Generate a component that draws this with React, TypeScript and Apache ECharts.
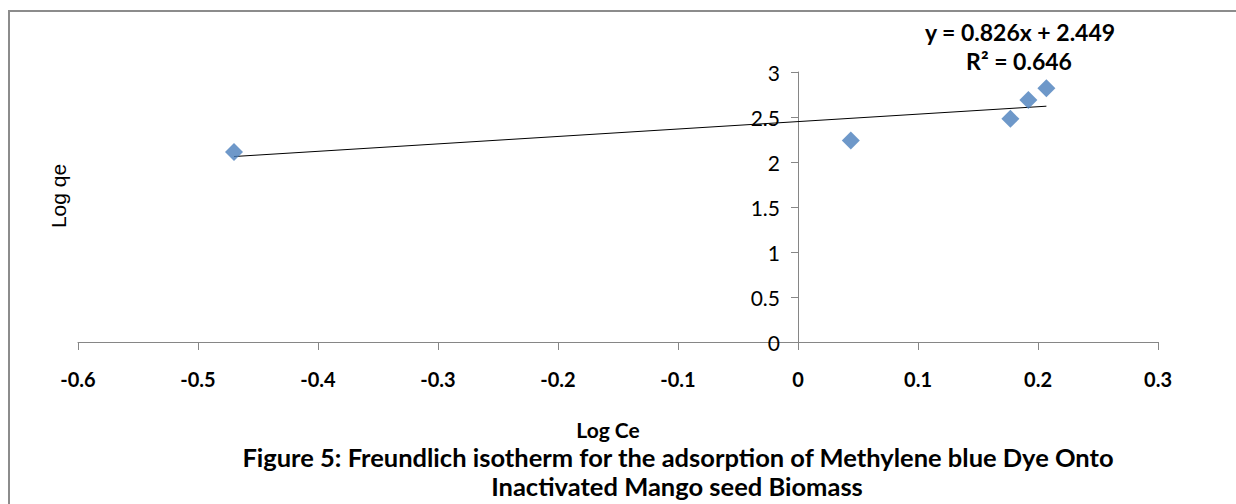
import React, { useEffect, useRef } from "react";
import * as echarts from "echarts";

const logCe = [-0.47, 0.044, 0.177, 0.192, 0.207];
const logQe = [2.11, 2.24, 2.48, 2.69, 2.82];
const slope = 0.826;
const intercept = 2.449;
const trendX = [-0.47, 0.207];
const equationText = "y = 0.826x + 2.449";
const r2Text = "R² = 0.646";
const xTitle = "Log Ce";
const yTitle = "Log qe";
const titleLines = [
  "Figure 5: Freundlich isotherm for the adsorption of Methylene blue Dye Onto",
  "Inactivated Mango seed Biomass",
];

const FONT = "Lato, 'Liberation Sans', sans-serif";

export default function App() {
  const ref = useRef<HTMLDivElement>(null);
  useEffect(() => {
    if (!ref.current) return;
    const chart = echarts.init(ref.current, null, { renderer: "svg" });
    const points = logCe.map((x, i) => [x, logQe[i]]);
    const trend = trendX.map((x) => [x, slope * x + intercept]);
    chart.setOption({
      animation: false,
      backgroundColor: "#ffffff",
      grid: { left: 78, right: 78, top: 72, bottom: 162 },
      xAxis: {
        type: "value",
        min: -0.6,
        max: 0.3,
        interval: 0.1,
        splitLine: { show: false },
        axisLine: { show: true, onZero: true, lineStyle: { color: "#868686", width: 1 } },
        axisTick: { show: true, length: 8, lineStyle: { color: "#868686" } },
        axisLabel: {
          margin: 27,
          fontSize: 20,
          fontWeight: "bold",
          color: "#000",
          fontFamily: FONT,
          formatter: (v: number) => String(Math.round(v * 10) / 10),
        },
      },
      yAxis: {
        type: "value",
        position: "left",
        offset: -720,
        min: 0,
        max: 3,
        interval: 0.5,
        splitLine: { show: false },
        axisLine: { show: true, onZero: false, lineStyle: { color: "#868686", width: 1 } },
        axisTick: { show: true, length: 7, lineStyle: { color: "#868686" } },
        axisLabel: {
          margin: 18,
          fontSize: 21,
          color: "#000",
          fontFamily: FONT,
          formatter: (v: number) => String(Math.round(v * 10) / 10),
        },
      },
      series: [
        {
          type: "line",
          data: trend,
          symbol: "none",
          lineStyle: { color: "#000", width: 1 },
          z: 3,
        },
        {
          type: "scatter",
          data: points,
          symbol: "diamond",
          symbolSize: 18,
          itemStyle: { color: "#4A7EBB" },
          z: 4,
        },
      ],
      graphic: [
        {
          type: "polyline",
          shape: { points: [[9, 504], [9, 11], [1236, 11]] },
          style: { stroke: "#8c8c8c", lineWidth: 2, fill: "none" },
        },
        {
          type: "text",
          x: 1020,
          y: 32,
          style: { text: equationText, font: `bold 23px ${FONT}`, fill: "#000", align: "center", verticalAlign: "middle" },
        },
        {
          type: "text",
          x: 1019,
          y: 61,
          style: { text: r2Text, font: `bold 23px ${FONT}`, fill: "#000", align: "center", verticalAlign: "middle" },
        },
        {
          type: "text",
          x: 608,
          y: 429,
          style: { text: xTitle, font: `bold 21px ${FONT}`, fill: "#000", align: "center", verticalAlign: "middle" },
        },
        {
          type: "text",
          x: 58,
          y: 196,
          rotation: Math.PI / 2,
          style: { text: yTitle, font: `21px 'Liberation Sans', Arial, sans-serif`, fill: "#000", align: "center", verticalAlign: "middle" },
        },
        {
          type: "text",
          x: 678,
          y: 457,
          style: { text: titleLines[0], font: `bold 25.5px ${FONT}`, fill: "#000", align: "center", verticalAlign: "middle" },
        },
        {
          type: "text",
          x: 677,
          y: 486,
          style: { text: titleLines[1], font: `bold 25.5px ${FONT}`, fill: "#000", align: "center", verticalAlign: "middle" },
        },
      ],
    });
    return () => chart.dispose();
  }, []);
  return (
    <div
      ref={ref}
      style={{ position: "absolute", left: 0, top: 0, width: 1236, height: 504 }}
    />
  );
}
